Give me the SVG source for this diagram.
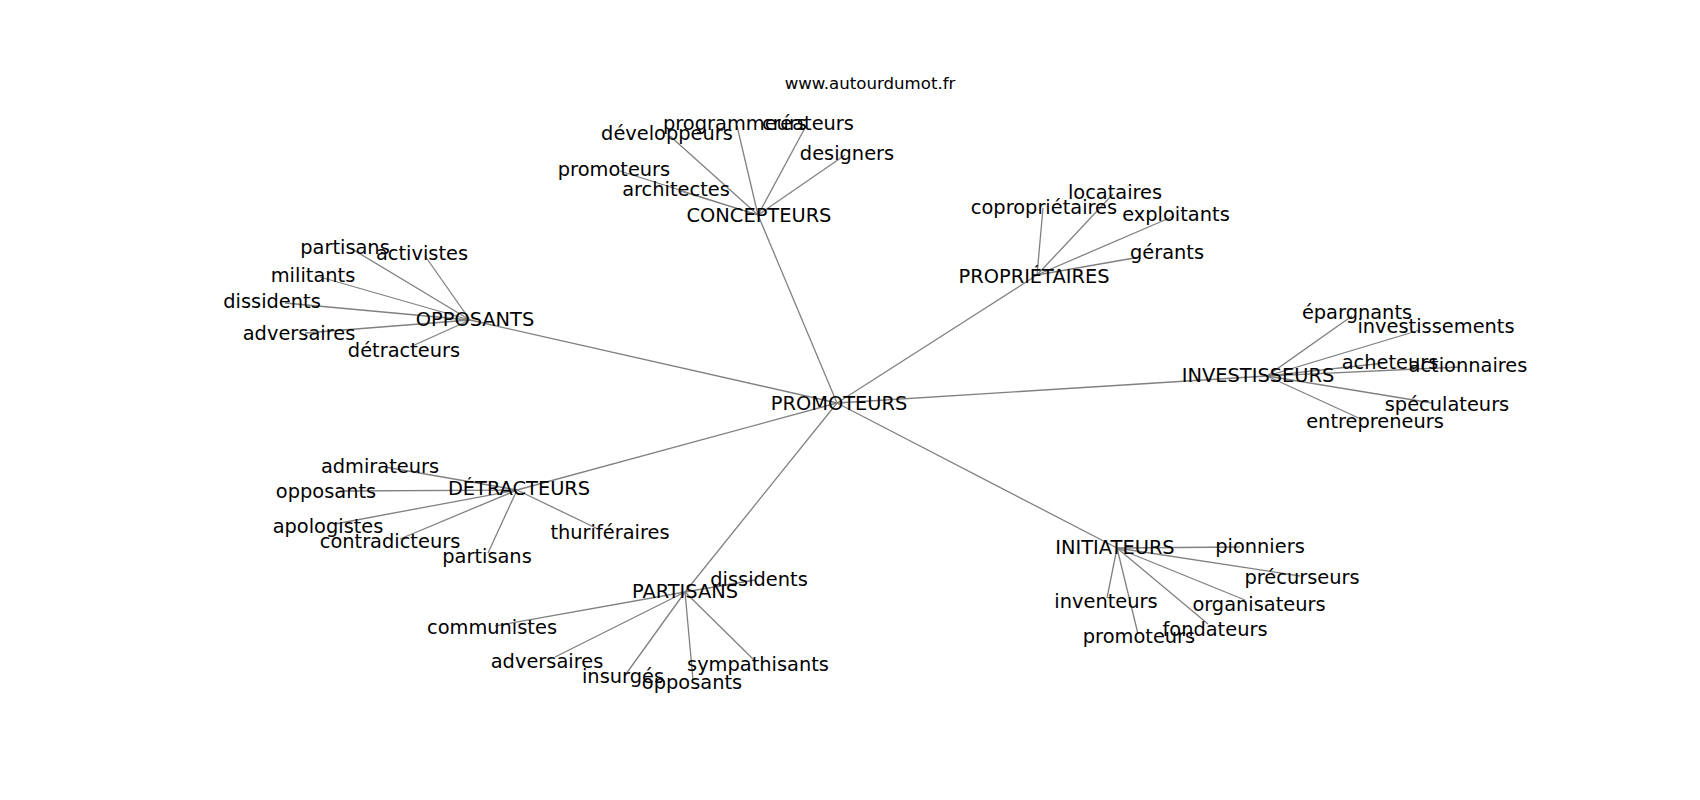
<svg xmlns="http://www.w3.org/2000/svg" width="1700" height="800" viewBox="0 0 1700 800">
<style>
text{font-family:"DejaVu Sans","Liberation Sans",sans-serif;font-size:19.4px;fill:#000;text-anchor:middle}
.url{font-size:16.6px}
#edges line{stroke:#808080;stroke-width:1.3}
</style>
<rect width="1700" height="800" fill="#fff"/>
<g id="edges">
<line x1="837" y1="403" x2="758" y2="215"/>
<line x1="837" y1="403" x2="470" y2="320"/>
<line x1="837" y1="403" x2="1037" y2="275"/>
<line x1="837" y1="403" x2="1267" y2="376"/>
<line x1="837" y1="403" x2="517" y2="490"/>
<line x1="837" y1="403" x2="685" y2="592"/>
<line x1="837" y1="403" x2="1117" y2="548"/>
<line x1="758" y1="215" x2="670" y2="136"/>
<line x1="758" y1="215" x2="737" y2="126"/>
<line x1="758" y1="215" x2="806" y2="126"/>
<line x1="758" y1="215" x2="845" y2="155"/>
<line x1="758" y1="215" x2="620" y2="171"/>
<line x1="758" y1="215" x2="680" y2="191"/>
<line x1="470" y1="320" x2="352" y2="249"/>
<line x1="470" y1="320" x2="425" y2="256"/>
<line x1="470" y1="320" x2="320" y2="277"/>
<line x1="470" y1="320" x2="285" y2="303"/>
<line x1="470" y1="320" x2="305" y2="333"/>
<line x1="470" y1="320" x2="410" y2="347"/>
<line x1="1037" y1="275" x2="1043" y2="208"/>
<line x1="1037" y1="275" x2="1113" y2="194"/>
<line x1="1037" y1="275" x2="1174" y2="216"/>
<line x1="1037" y1="275" x2="1140" y2="257"/>
<line x1="1267" y1="376" x2="1352" y2="316"/>
<line x1="1267" y1="376" x2="1420" y2="330"/>
<line x1="1267" y1="376" x2="1385" y2="363"/>
<line x1="1267" y1="376" x2="1460" y2="367"/>
<line x1="1267" y1="376" x2="1432" y2="403"/>
<line x1="1267" y1="376" x2="1363" y2="420"/>
<line x1="517" y1="490" x2="385" y2="467"/>
<line x1="517" y1="490" x2="340" y2="491"/>
<line x1="517" y1="490" x2="335" y2="524"/>
<line x1="517" y1="490" x2="400" y2="539"/>
<line x1="517" y1="490" x2="488" y2="553"/>
<line x1="517" y1="490" x2="598" y2="529"/>
<line x1="685" y1="592" x2="755" y2="580"/>
<line x1="685" y1="592" x2="495" y2="626"/>
<line x1="685" y1="592" x2="555" y2="657"/>
<line x1="685" y1="592" x2="626" y2="674"/>
<line x1="685" y1="592" x2="693" y2="680"/>
<line x1="685" y1="592" x2="754" y2="660"/>
<line x1="1117" y1="548" x2="1240" y2="547"/>
<line x1="1117" y1="548" x2="1300" y2="576"/>
<line x1="1117" y1="548" x2="1245" y2="600"/>
<line x1="1117" y1="548" x2="1208" y2="624"/>
<line x1="1117" y1="548" x2="1107" y2="598"/>
<line x1="1117" y1="548" x2="1138" y2="634"/>
</g>
<g id="labels" transform="translate(0,0.5)">
<g id="url"><text class="url" x="870" y="88">www.autourdumot.fr</text></g>
<g id="promoteurs-center"><text x="839" y="409">PROMOTEURS</text></g>
<g id="concepteurs"><text x="759" y="221">CONCEPTEURS</text></g>
<g id="c-developpeurs"><text x="667" y="139">développeurs</text></g>
<g id="c-programmeurs"><text x="735" y="129">programmeurs</text></g>
<g id="c-createurs"><text x="808" y="129">créateurs</text></g>
<g id="c-designers"><text x="847" y="159">designers</text></g>
<g id="c-promoteurs"><text x="614" y="175">promoteurs</text></g>
<g id="c-architectes"><text x="676" y="195">architectes</text></g>
<g id="opposants"><text x="475" y="325">OPPOSANTS</text></g>
<g id="o-partisans"><text x="345" y="253">partisans</text></g>
<g id="o-activistes"><text x="422" y="259">activistes</text></g>
<g id="o-militants"><text x="313" y="281">militants</text></g>
<g id="o-dissidents"><text x="272" y="307">dissidents</text></g>
<g id="o-adversaires"><text x="299" y="339">adversaires</text></g>
<g id="o-detracteurs"><text x="404" y="356">détracteurs</text></g>
<g id="proprietaires"><text x="1034" y="282">PROPRIÉTAIRES</text></g>
<g id="p-coproprietaires"><text x="1044" y="213">copropriétaires</text></g>
<g id="p-locataires"><text x="1115" y="198">locataires</text></g>
<g id="p-exploitants"><text x="1176" y="220">exploitants</text></g>
<g id="p-gerants"><text x="1167" y="258">gérants</text></g>
<g id="investisseurs"><text x="1258" y="381">INVESTISSEURS</text></g>
<g id="i-epargnants"><text x="1357" y="318">épargnants</text></g>
<g id="i-investissements"><text x="1436" y="332">investissements</text></g>
<g id="i-acheteurs"><text x="1390" y="368">acheteurs</text></g>
<g id="i-actionnaires"><text x="1468" y="371">actionnaires</text></g>
<g id="i-speculateurs"><text x="1447" y="410">spéculateurs</text></g>
<g id="i-entrepreneurs"><text x="1375" y="427">entrepreneurs</text></g>
<g id="detracteurs"><text x="519" y="494">DÉTRACTEURS</text></g>
<g id="d-admirateurs"><text x="380" y="472">admirateurs</text></g>
<g id="d-opposants"><text x="326" y="497">opposants</text></g>
<g id="d-apologistes"><text x="328" y="532">apologistes</text></g>
<g id="d-contradicteurs"><text x="390" y="547">contradicteurs</text></g>
<g id="d-partisans"><text x="487" y="562">partisans</text></g>
<g id="d-thuriferaires"><text x="610" y="538">thuriféraires</text></g>
<g id="partisans"><text x="685" y="597">PARTISANS</text></g>
<g id="pa-dissidents"><text x="759" y="585">dissidents</text></g>
<g id="pa-communistes"><text x="492" y="633">communistes</text></g>
<g id="pa-adversaires"><text x="547" y="667">adversaires</text></g>
<g id="pa-insurges"><text x="623" y="682">insurgés</text></g>
<g id="pa-opposants"><text x="692" y="688">opposants</text></g>
<g id="pa-sympathisants"><text x="758" y="670">sympathisants</text></g>
<g id="initiateurs"><text x="1115" y="553">INITIATEURS</text></g>
<g id="in-pionniers"><text x="1260" y="552">pionniers</text></g>
<g id="in-precurseurs"><text x="1302" y="583">précurseurs</text></g>
<g id="in-organisateurs"><text x="1259" y="610">organisateurs</text></g>
<g id="in-fondateurs"><text x="1215" y="635">fondateurs</text></g>
<g id="in-inventeurs"><text x="1106" y="607">inventeurs</text></g>
<g id="in-promoteurs"><text x="1139" y="642">promoteurs</text></g>
</g>
</svg>
